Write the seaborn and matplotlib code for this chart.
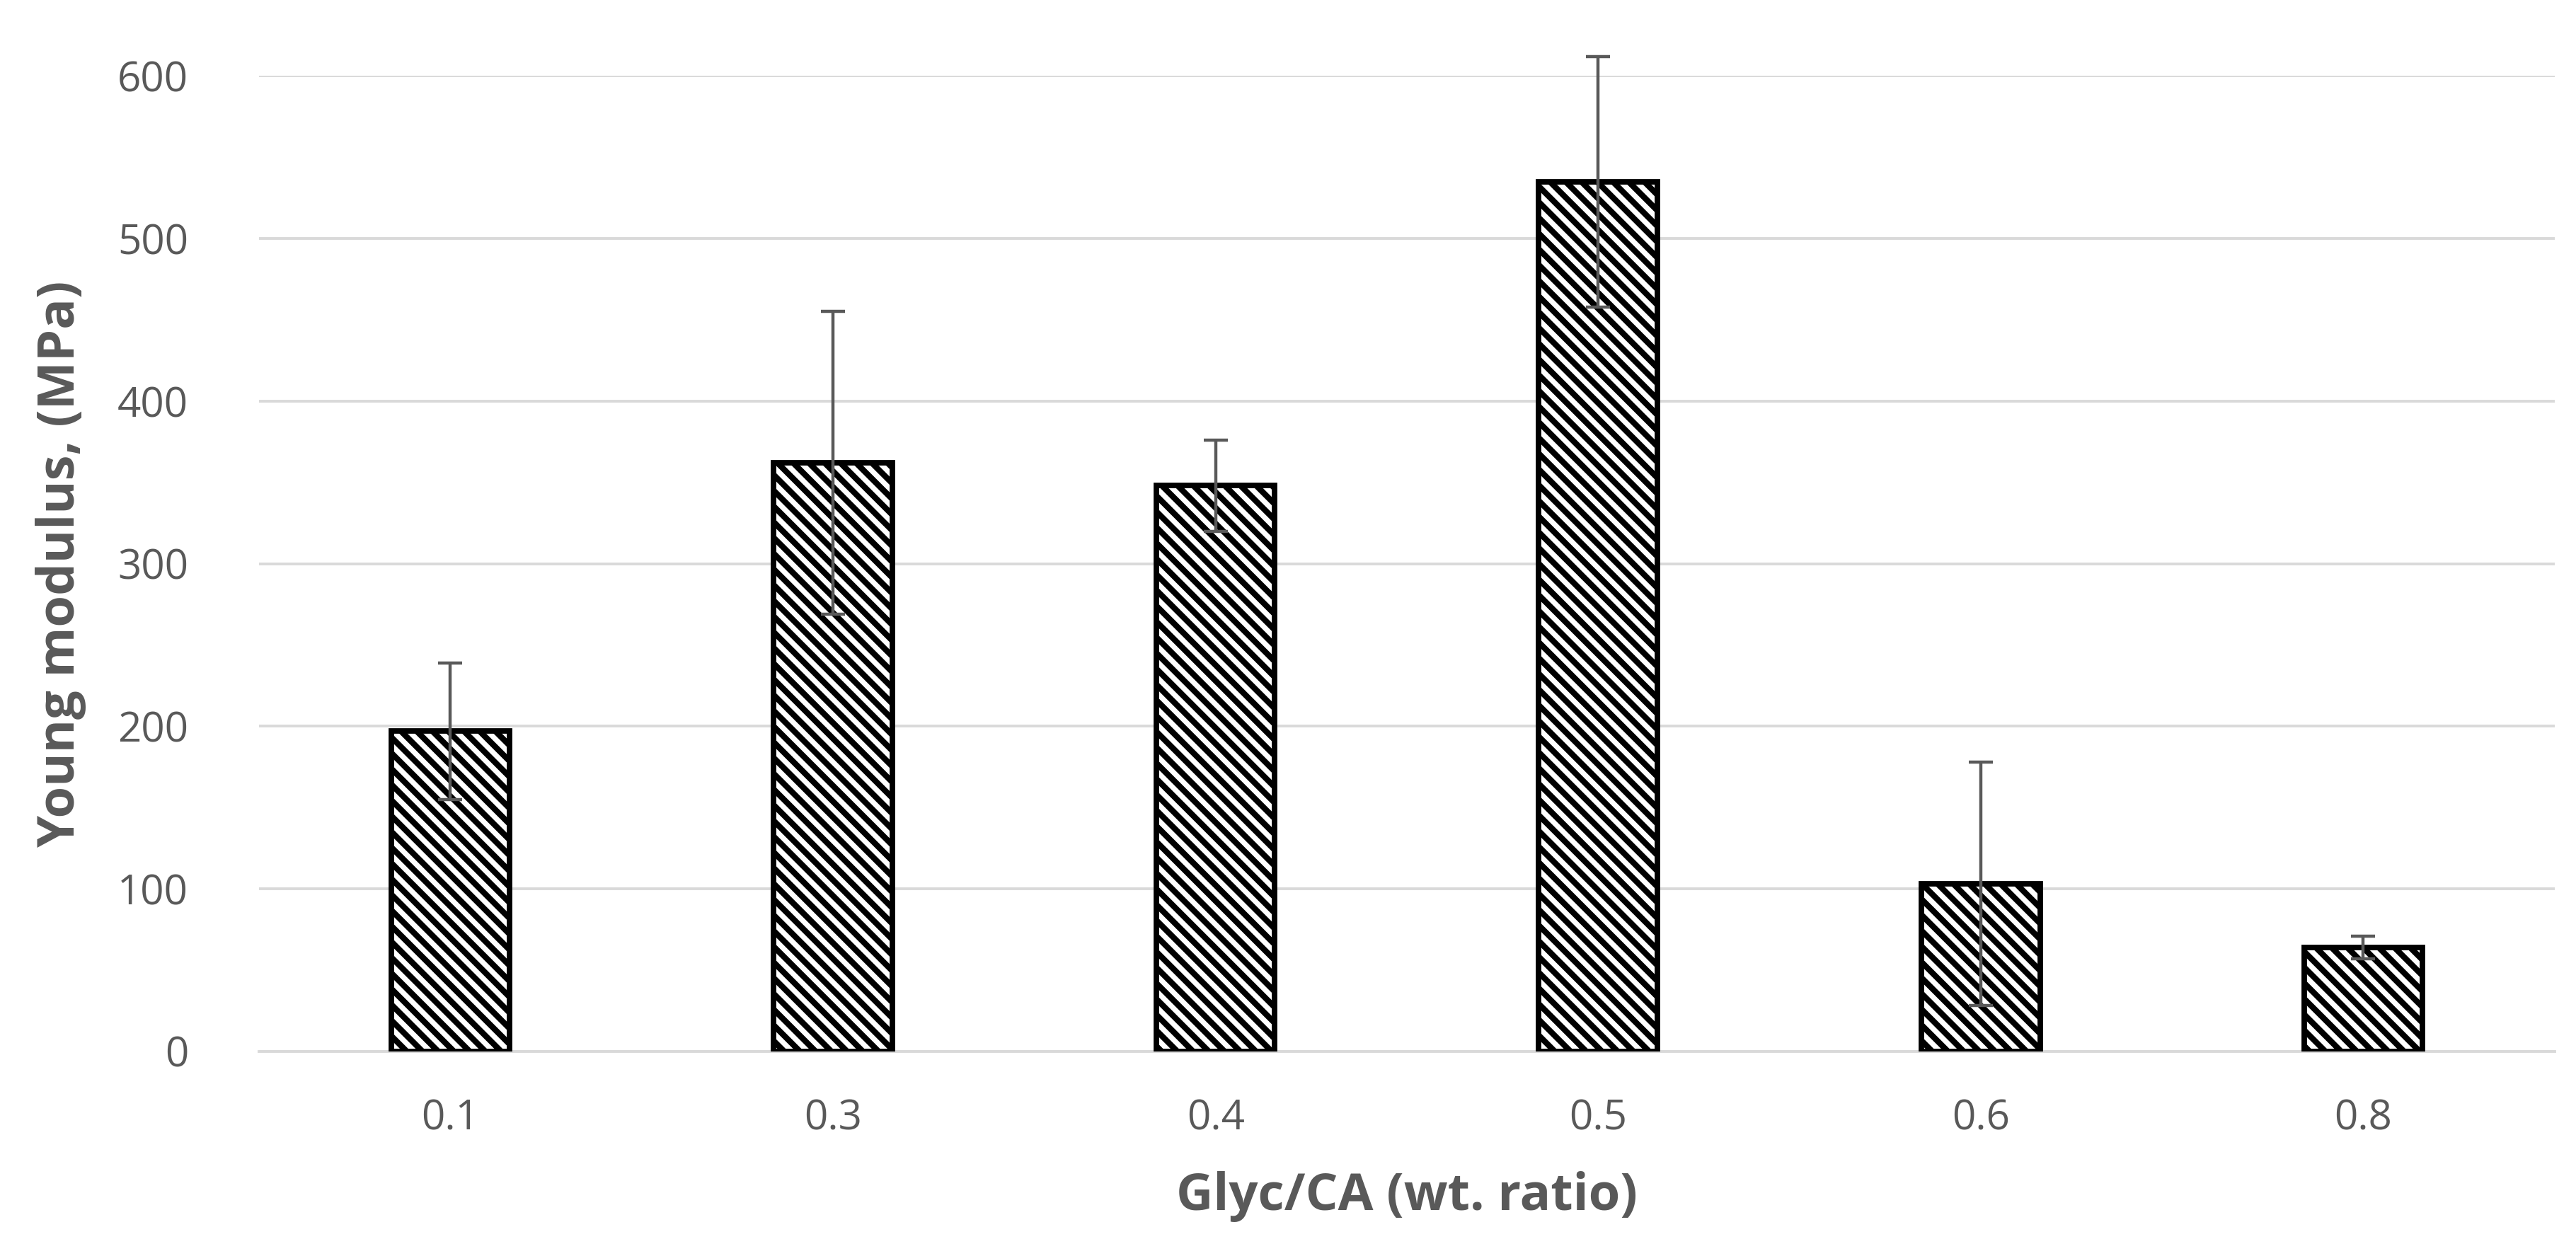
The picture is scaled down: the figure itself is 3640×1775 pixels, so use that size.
import numpy as np
import pandas as pd
import seaborn as sns
import matplotlib.pyplot as plt

ratios = ['0.1', '0.3', '0.4', '0.5', '0.6', '0.8']
modulus = [197, 362, 348, 535, 103, 64]
modulus_err = [42, 93, 28, 77, 75, 7]

df = pd.DataFrame({'ratio': ratios, 'modulus': modulus})

sns.set_style('white')
plt.rcParams['font.family'] = ['Open Sans', 'DejaVu Sans']
plt.rcParams['hatch.linewidth'] = 3.0

grey = '#595959'
light = '#d9d9d9'

fig = plt.figure(figsize=(18.2, 8.875), dpi=200)
ax = fig.add_axes([0.1006, 0.163, 0.8911, 0.7765])

sns.barplot(data=df, x='ratio', y='modulus', color='white', edgecolor='black',
            linewidth=2.8, width=0.31, errorbar=None, ax=ax, zorder=3)
for p in ax.patches:
    p.set_hatch('\\\\\\')
    p.set_facecolor('white')

ax.errorbar(np.arange(len(ratios)), modulus, yerr=modulus_err, fmt='none',
            ecolor=grey, elinewidth=1.6, capsize=6, capthick=1.6, zorder=4,
            clip_on=False)

ax.set_ylim(0, 600)
ax.set_xlim(-0.5, len(ratios) - 0.5)
ax.set_yticks(range(0, 601, 100))
ax.yaxis.grid(True, color=light, linewidth=1.4, zorder=0)
ax.set_axisbelow(True)
for s in ['top', 'right', 'left']:
    ax.spines[s].set_visible(False)
ax.spines['bottom'].set_color(light)
ax.spines['bottom'].set_linewidth(1.4)

ax.set_xticks(np.arange(-0.5, len(ratios)), minor=True)
ax.tick_params(axis='x', which='minor', length=10, width=1.4, color=light)
ax.tick_params(axis='x', which='major', length=0, pad=24, labelsize=21, labelcolor=grey)
ax.tick_params(axis='y', length=0, pad=36, labelsize=21, labelcolor=grey)

ax.set_xlabel('Glyc/CA (wt. ratio)', fontsize=26, fontweight='bold', color=grey, labelpad=16)
ax.set_ylabel('Young modulus, (MPa)', fontsize=26, fontweight='bold', color=grey, labelpad=16)

fig.savefig('out.png', dpi=200)
